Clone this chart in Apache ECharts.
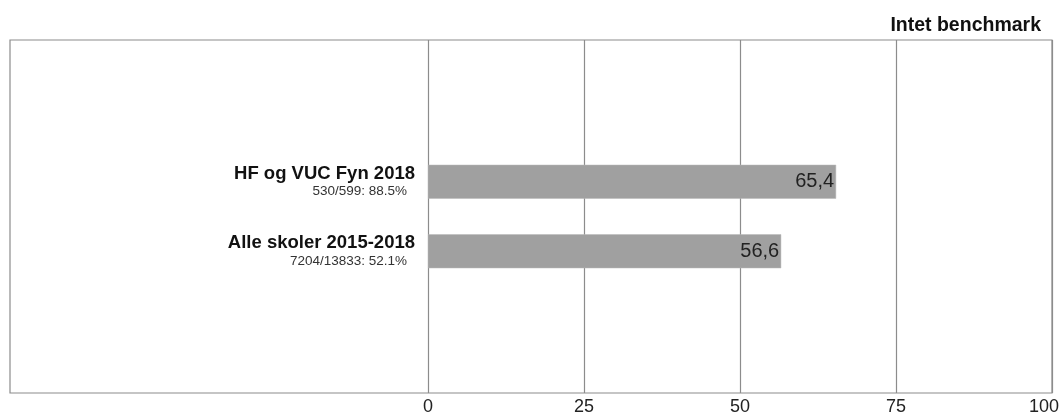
<!DOCTYPE html>
<html>
<head>
<meta charset="utf-8">
<script src="https://cdn.jsdelivr.net/npm/echarts@6/dist/echarts.min.js"></script>
<style>
  html, body { margin: 0; padding: 0; background: #fff; }
  #chart { width: 1064px; height: 414px; }
</style>
</head>
<body>
<div id="chart"></div>
<script>
const categories = ["HF og VUC Fyn 2018", "Alle skoler 2015-2018"];
const subLabels = ["530/599: 88.5%", "7204/13833: 52.1%"];
const values = [65.4, 56.6];
const xTicks = [0, 25, 50, 75, 100];

const chart = echarts.init(document.getElementById("chart"));
const font = "Liberation Sans";

const options = {
  animation: false,
  textStyle: { fontFamily: font },
  title: {
    text: "Intet benchmark",
    right: 18,
    top: 11,
    textStyle: { fontFamily: font, fontSize: 19.5, fontWeight: "bold", color: "#111" },
  },
  graphic: [
    {
      type: "rect",
      z: 0,
      shape: { x: 10, y: 40, width: 1042, height: 353 },
      style: { fill: "none", stroke: "#8c8c8c", lineWidth: 1.2 },
    },
  ],
  grid: [
    { left: 428, right: 12, top: 40, bottom: 21, outerBoundsMode: "none" },
    { left: 428, right: 12, top: 147, bottom: 128, outerBoundsMode: "none" },
  ],
  xAxis: [
    {
      gridIndex: 0,
      type: "value",
      min: 0,
      max: 100,
      interval: 25,
      axisLine: { show: false },
      axisTick: { show: false },
      splitLine: { show: true, lineStyle: { color: "#8c8c8c", width: 1.2 } },
      axisLabel: {
        color: "#222",
        fontSize: 18,
        margin: 5,
        formatter: (v) => {
          if (!xTicks.includes(v)) return "";
          return v === 100 ? "{r|" + v + "}" : String(v);
        },
        rich: {
          r: { fontFamily: font, fontSize: 18, color: "#222", padding: [0, 16, 0, 0] },
        },
      },
    },
    {
      gridIndex: 1,
      type: "value",
      min: 0,
      max: 100,
      show: false,
    },
  ],
  yAxis: [
    { gridIndex: 0, type: "category", data: [], show: false },
    {
      gridIndex: 1,
      type: "category",
      inverse: true,
      data: categories,
      axisLine: { show: false },
      axisTick: { show: false },
      axisLabel: {
        margin: 13,
        formatter: (v, i) => "{a|" + v + "}\n{b|" + subLabels[i] + "}",
        rich: {
          a: { fontFamily: font, fontSize: 18.5, fontWeight: "bold", color: "#111", lineHeight: 20, align: "right" },
          b: { fontFamily: font, fontSize: 13.5, color: "#333", lineHeight: 16, align: "right", padding: [0, 8, 0, 0] },
        },
      },
    },
  ],
  series: [
    {
      type: "bar",
      xAxisIndex: 1,
      yAxisIndex: 1,
      data: values,
      barWidth: 34,
      itemStyle: { color: "#a0a0a0", borderColor: "#b8b8b8", borderWidth: 0.5 },
      label: {
        show: true,
        position: "insideRight",
        distance: 2,
        color: "#222",
        fontSize: 20,
        fontFamily: font,
        formatter: (p) => p.value.toFixed(1).replace(".", ","),
      },
      z: 3,
    },
  ],
};

chart.setOption(options);
</script>
</body>
</html>
